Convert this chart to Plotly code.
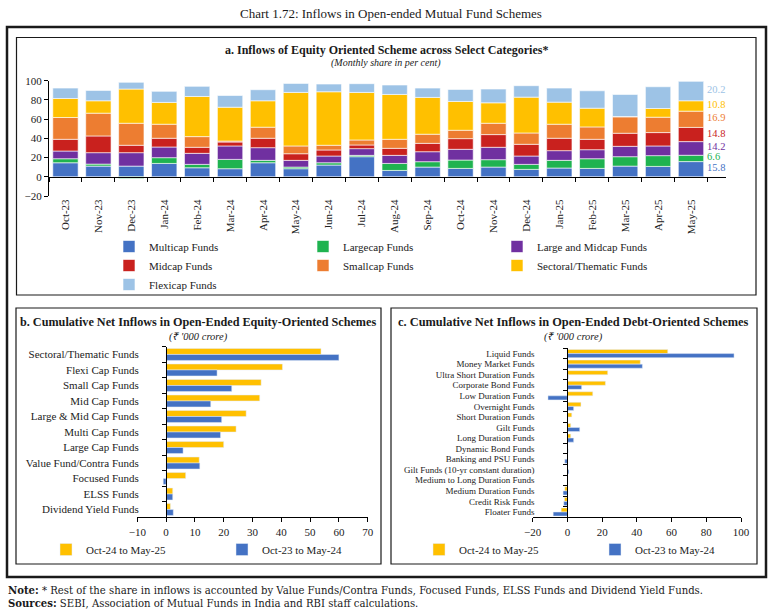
import numpy as np
import plotly.graph_objects as go

W, H = 775, 611

# ---------------- Data ----------------
months = ["Oct-23", "Nov-23", "Dec-23", "Jan-24", "Feb-24", "Mar-24", "Apr-24", "May-24",
          "Jun-24", "Jul-24", "Aug-24", "Sep-24", "Oct-24", "Nov-24", "Dec-24", "Jan-25",
          "Feb-25", "Mar-25", "Apr-25", "May-25"]
multicap = [14.6, 11.1, 11.1, 13.9, 9.4, 8.4, 14.6, 8.4, 12.2, 20.9, 6.6, 10.1, 8.7, 10.1, 7.7, 9.1, 8.7, 11.1, 10.8, 15.8]
largecap = [4.2, 2.1, -1.7, 6.0, 3.5, 9.7, 2.5, 1.7, 2.4, 1.4, 7.3, 5.6, 8.7, 7.7, 5.2, 8.0, 10.1, 9.8, 11.2, 6.6]
large_midcap = [8.0, 11.9, 14.0, 11.1, 11.5, 14.0, 13.2, 7.0, 7.0, 7.0, 8.4, 10.4, 11.2, 12.9, 8.7, 10.1, 9.4, 10.8, 10.1, 14.2]
midcap = [12.2, 17.4, 7.7, 9.1, 6.3, 4.1, 9.8, 6.9, 6.3, 3.8, 7.3, 8.7, 11.1, 13.2, 12.2, 12.9, 10.8, 13.6, 13.9, 14.8]
smallcap = [22.7, 23.7, 22.9, 14.6, 11.1, 1.0, 11.5, 8.1, 4.9, 5.2, 9.4, 9.5, 8.7, 11.8, 11.8, 14.6, 12.9, 17.1, 16.0, 16.9]
sectoral = [19.8, 12.9, 35.6, 22.7, 41.8, 35.2, 27.5, 55.7, 55.7, 49.5, 46.7, 38.3, 30.0, 21.3, 37.3, 23.0, 19.5, 0.3, 9.1, 10.8]
flexicap = [10.8, 10.8, 7.0, 11.5, 10.5, 12.2, 11.5, 9.4, 8.0, 9.1, 9.8, 9.7, 12.5, 14.3, 11.9, 14.6, 18.1, 23.0, 22.6, 20.2]

series_names = ["Multicap Funds", "Largecap Funds", "Large and Midcap Funds", "Midcap Funds",
                "Smallcap Funds", "Sectoral/Thematic Funds", "Flexicap Funds"]
series_vals = [multicap, largecap, large_midcap, midcap, smallcap, sectoral, flexicap]
series_colors = ["#4472C4", "#1FB350", "#7030A0", "#C9211E", "#ED7D31", "#FFC000", "#9DC3E6"]
series_legend = ["legend", "legend2", "legend3", "legend", "legend2", "legend3", "legend"]

eq_cats = ["Sectoral/Thematic Funds", "Flexi Cap Funds", "Small Cap Funds", "Mid Cap Funds",
           "Large & Mid Cap Funds", "Multi Cap Funds", "Large Cap Funds", "Value Fund/Contra Funds",
           "Focused Funds", "ELSS Funds", "Dividend Yield Funds"]
eq_recent = [53.8, 40.4, 33.0, 32.5, 27.8, 24.3, 20.0, 11.5, 6.8, 2.3, 1.5]
eq_prev = [60.0, 17.7, 22.8, 15.5, 19.3, 18.9, 5.9, 11.7, -1.0, 2.3, 2.5]

debt_cats = ["Liquid Funds", "Money Market Funds", "Ultra Short Duration Funds", "Corporate Bond Funds",
             "Low Duration Funds", "Overnight Funds", "Short Duration Funds", "Gilt Funds",
             "Long Duration Funds", "Dynamic Bond Funds", "Banking and PSU Funds",
             "Gilt Funds (10-yr constant duration)", "Medium to Long Duration Funds",
             "Medium Duration Funds", "Credit Risk Funds", "Floater Funds"]
debt_recent = [57.8, 42.0, 23.2, 21.9, 14.6, 7.8, 2.5, 1.9, 1.9, 0.2, 0.1, 0.0, 0.2, -1.5, -1.7, -3.6]
debt_prev = [96.0, 43.2, 0.5, 8.2, -11.2, 3.6, 0.3, 7.1, 3.6, 0.4, -1.5, 0.8, 0.1, -2.5, -2.1, -8.2]

period_names = ["Oct-24 to May-25", "Oct-23 to May-24"]
period_colors = ["#FFC000", "#4472C4"]

FONT = "Liberation Serif"
NOTE_FONT = "DejaVu Serif"

def px(x):
    return x / W

def py(y):
    return 1 - y / H

fig = go.Figure()

# ---------------- Panel a: stacked (relative) bars ----------------
vals = np.array(series_vals, dtype=float)
pos_base = np.zeros(len(months))
neg_base = np.zeros(len(months))
bases = []
for name, v, c, lg in zip(series_names, vals, series_colors, series_legend):
    base = np.where(v >= 0, pos_base, neg_base)
    bases.append(base.copy())
    fig.add_trace(go.Bar(
        x=months, y=v, base=base, name=name, marker_color=c,
        marker_line=dict(color="white", width=0.6),
        offsetgroup="a", xaxis="x", yaxis="y", legend=lg,
        hovertemplate="%{x}: %{y}<extra>" + name + "</extra>"))
    pos_base = pos_base + np.where(v >= 0, v, 0)
    neg_base = neg_base + np.where(v < 0, v, 0)

# value labels for the last month
last = len(months) - 1
for name, v, c, b in zip(series_names, vals, series_colors, bases):
    fig.add_annotation(x=months[last], y=b[last] + v[last] / 2, xref="x", yref="y",
                       text=f"{v[last]:.1f}", showarrow=False, xanchor="left",
                       xshift=15, yshift=1.5, borderpad=0,
                       font=dict(family=FONT, size=10.5, color=c))

# ---------------- Panel b ----------------
for name, v, c, lg in zip(period_names, [eq_recent, eq_prev], period_colors, ["legend4", "legend5"]):
    fig.add_trace(go.Bar(y=eq_cats, x=v, orientation="h", name=name, marker_color=c,
                         xaxis="x2", yaxis="y2", legend=lg))

# ---------------- Panel c ----------------
for name, v, c, lg in zip(period_names, [debt_recent, debt_prev], period_colors, ["legend6", "legend7"]):
    fig.add_trace(go.Bar(y=debt_cats, x=v, orientation="h", name=name, marker_color=c,
                         xaxis="x3", yaxis="y3", legend=lg))

axis_common = dict(showgrid=False, zeroline=False, showline=True, linecolor="#000000",
                   linewidth=1, ticks="outside", tickcolor="#000000", ticklen=4,
                   tickfont=dict(family=FONT, size=11, color="#222222"))

fig.update_layout(
    width=W, height=H,
    margin=dict(l=0, r=0, t=0, b=0, autoexpand=False),
    paper_bgcolor="white", plot_bgcolor="white",
    barmode="group", bargap=0.23,
    font=dict(family=FONT, color="#222222"),
    xaxis=dict(axis_common, domain=[px(49), px(726)], type="category",
               anchor="free", position=py(177), tickson="boundaries",
               tickangle=-90, ticklabelstandoff=17,
               tickfont=dict(family=FONT, size=11, color="#222222")),
    yaxis=dict(axis_common, domain=[py(196), py(80.7)], range=[-20, 100], dtick=20,
               anchor="x"),
    xaxis2=dict(axis_common, domain=[px(137.3), px(367.7)], range=[-10, 70], dtick=10,
                anchor="y2"),
    yaxis2=dict(axis_common, domain=[py(517.3), py(346.7)], type="category",
                autorange="reversed", anchor="free", position=px(166),
                tickson="boundaries", ticklabelstandoff=25,
                tickmode="array", tickvals=eq_cats, ticktext=eq_cats,
                tickfont=dict(family=FONT, size=11, color="#222222")),
    xaxis3=dict(axis_common, domain=[px(532.7), px(741)], range=[-20, 100], dtick=20,
                anchor="y3"),
    yaxis3=dict(axis_common, domain=[py(517.3), py(348.3)], type="category",
                autorange="reversed", anchor="free", position=px(567.4),
                tickson="boundaries", ticklabelstandoff=31,
                tickmode="array", tickvals=debt_cats, ticktext=debt_cats,
                tickfont=dict(family=FONT, size=9, color="#222222")),
    showlegend=True,
)

leg_font = dict(family=FONT, size=11, color="#222222")
def leg(x, y, orient="v"):
    return dict(x=px(x), y=py(y), xanchor="left", yanchor="top", orientation=orient,
                font=leg_font, bgcolor="rgba(0,0,0,0)", traceorder="normal",
                itemclick=False, itemdoubleclick=False, tracegroupgap=0)

fig.update_layout(
    legend=leg(109, 232), legend2=leg(303, 232), legend3=leg(497, 232),
    legend4=leg(46, 535), legend5=leg(222, 535),
    legend6=leg(419, 535), legend7=leg(595, 535),
)

# ---------------- Frames / boxes ----------------
def rect(x0, y0, x1, y1, w):
    fig.add_shape(type="rect", xref="paper", yref="paper", x0=px(x0), x1=px(x1),
                  y0=py(y1), y1=py(y0), line=dict(color="#1a1a1a", width=w),
                  fillcolor="rgba(0,0,0,0)", layer="below")

rect(7, 27, 766, 577, 2.5)
rect(16.5, 37.5, 756, 295, 1.2)
rect(16, 308, 381, 564, 1.2)
rect(391, 308, 757, 564, 1.2)

# ---------------- Titles / notes ----------------
def text(x, y, s, size, anchor="center", bold=False, italic=False, family=FONT):
    if bold:
        s = "<b>" + s + "</b>"
    if italic:
        s = "<i>" + s + "</i>"
    fig.add_annotation(x=px(x), y=py(y), xref="paper", yref="paper", text=s,
                       showarrow=False, xanchor=anchor, yanchor="middle",
                       font=dict(family=family, size=size, color="#1a1a1a"))

text(391, 13, "Chart 1.72: Inflows in Open-ended Mutual Fund Schemes", 13)
text(386, 50, "a. Inflows of Equity Oriented Scheme across Select Categories*", 12, bold=True)
text(386, 63, "(Monthly share in per cent)", 10, italic=True)
text(198, 322, "b. Cumulative Net Inflows in Open-Ended Equity-Oriented Schemes", 12.2, bold=True)
text(198, 337, "(₹ '000 crore)", 10.5, italic=True)
text(573, 322, "c. Cumulative Net Inflows in Open-Ended Debt-Oriented Schemes", 12.4, bold=True)
text(573, 337, "(₹ '000 crore)", 10.5, italic=True)
text(6, 590, "<b>Note:</b> * Rest of the share in inflows is accounted by Value Funds/Contra Funds, Focused Funds, ELSS Funds and Dividend Yield Funds.", 10.1, anchor="left", family=NOTE_FONT)
text(6, 603, "<b>Sources:</b> SEBI, Association of Mutual Funds in India and RBI staff calculations.", 10.1, anchor="left", family=NOTE_FONT)

fig.write_html("out.html", config={"displayModeBar": False},
               post_script="document.body.style.margin='0px';")
